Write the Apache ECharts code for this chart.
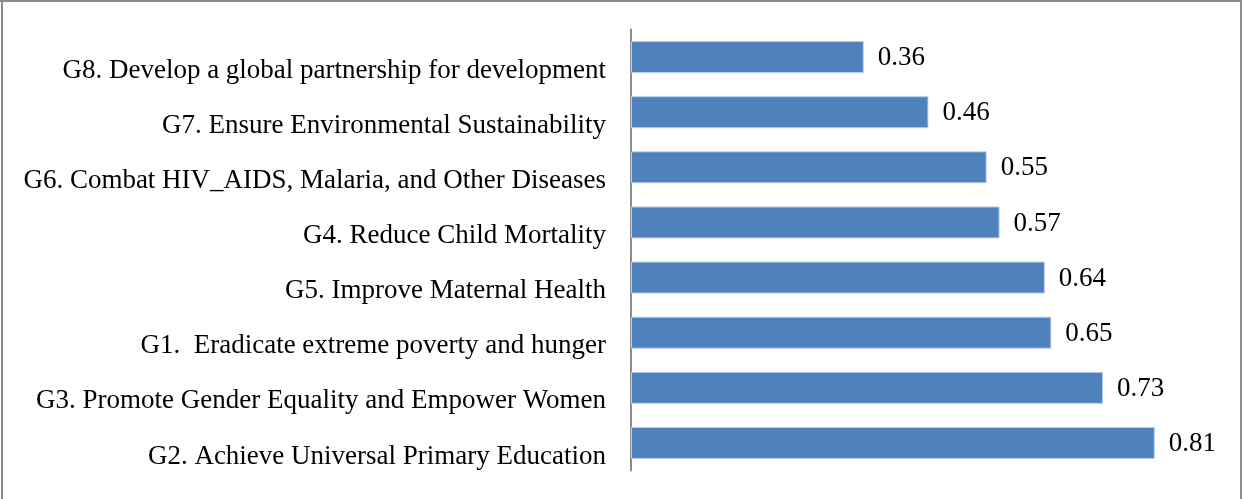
<!DOCTYPE html>
<html>
<head>
<meta charset="utf-8">
<script src="https://cdn.jsdelivr.net/npm/echarts@6/dist/echarts.min.js"></script>
<style>
  html, body { margin: 0; padding: 0; background: #fff; }
  #chart { width: 1242px; height: 499px; }
</style>
</head>
<body>
<div id="chart"></div>
<script>
// Goals, listed bottom to top as they appear on the category axis
const goals = [
  'G2. Achieve Universal Primary Education',
  'G3. Promote Gender Equality and Empower Women',
  'G1.  Eradicate extreme poverty and hunger',
  'G5. Improve Maternal Health',
  'G4. Reduce Child Mortality',
  'G6. Combat HIV_AIDS, Malaria, and Other Diseases',
  'G7. Ensure Environmental Sustainability',
  'G8. Develop a global partnership for development'
];
const scores = [0.81, 0.73, 0.65, 0.64, 0.57, 0.55, 0.46, 0.36];

const FONT = '"Liberation Serif", "Times New Roman", serif';
const chart = echarts.init(document.getElementById('chart'), null, { renderer: 'canvas' });

chart.setOption({
  animation: false,
  backgroundColor: '#fff',
  grid: { left: 631, right: 29, top: 29.5, bottom: 28.5, containLabel: false },
  xAxis: {
    type: 'value', min: 0, max: 0.9, show: false
  },
  yAxis: {
    type: 'category',
    data: goals,
    axisLine: { show: true, lineStyle: { color: '#8c8c8c', width: 2 } },
    axisTick: { show: false },
    // goal names sit a little below the middle of their bars
    axisLabel: {
      color: '#000', fontFamily: FONT, fontSize: 27, margin: 25,
      verticalAlign: 'top', lineHeight: 27
    }
  },
  series: [{
    type: 'bar',
    data: scores,
    barWidth: 32,
    itemStyle: { color: '#4f81bd', borderColor: '#bcd0ea', borderWidth: 1 },
    label: {
      show: true, position: 'right', distance: 14, offset: [0, 1],
      color: '#000', fontFamily: FONT, fontSize: 27,
      formatter: p => p.value.toFixed(2)
    }
  }],
  graphic: [
    { type: 'line', shape: { x1: 2, y1: 0, x2: 2, y2: 499 }, style: { stroke: '#8c8c8c', lineWidth: 2 } },
    { type: 'line', shape: { x1: 0, y1: 1, x2: 1242, y2: 1 }, style: { stroke: '#8c8c8c', lineWidth: 2 } },
    { type: 'line', shape: { x1: 1241, y1: 0, x2: 1241, y2: 499 }, style: { stroke: '#8c8c8c', lineWidth: 2 } }
  ]
});
</script>
</body>
</html>
